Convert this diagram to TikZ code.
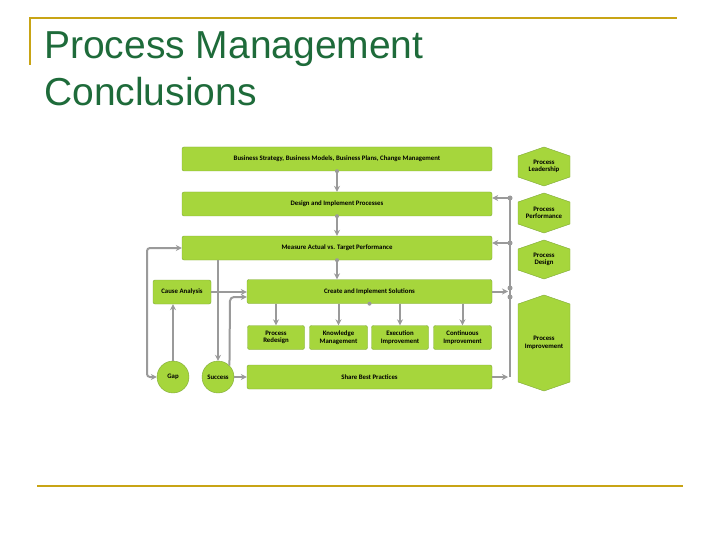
\documentclass[tikz,border=0pt]{standalone}
\usepackage{fontspec}
\setmainfont{Liberation Sans}
\newfontfamily\carlfont{Carlito}
\usetikzlibrary{arrows.meta,shapes.geometric}
\definecolor{gfill}{HTML}{A6D63C}
\definecolor{gline}{HTML}{7FA838}
\definecolor{arr}{HTML}{9A9A9A}
\definecolor{gold}{HTML}{C8A415}
\definecolor{ttl}{HTML}{1E6B3A}
\tikzset{
 box/.style={draw=gline,fill=gfill,rounded corners=2pt,font=\carlfont\bfseries\fontsize{6.8}{7.5}\selectfont,align=center,inner sep=0pt},
 circ/.style={circle,draw=gline,fill=gfill,minimum size=32pt,inner sep=0pt,font=\carlfont\bfseries\fontsize{6.8}{7.5}\selectfont},
 hex/.style={font=\carlfont\bfseries\fontsize{6.8}{7.5}\selectfont,align=center},
 con/.style={draw=arr,line width=2pt,-{Stealth[length=6pt,width=6pt]}},
 ln/.style={draw=arr,line width=2pt},
 dot/.style={circle,fill=arr,inner sep=0pt,minimum size=5pt}
}
\begin{document}
\begin{tikzpicture}[x=1pt,y=-1pt]
\useasboundingbox (0,0) rectangle (720,540);
\draw[gold,line width=2pt] (30,65) -- (30,18) -- (677,18);
\draw[gold,line width=2pt] (37,486) -- (683,486);
\node[anchor=north west,text=ttl,font=\fontsize{39}{47}\selectfont,align=left,inner sep=0pt] (title) at (44,31) {Process Management\\Conclusions};
% boxes
\node[box,minimum width=310pt,minimum height=24pt] (bs) at (337,159) {Business Strategy, Business Models, Business Plans, Change Management};
\node[box,minimum width=310pt,minimum height=24pt] (dp) at (337,204) {Design and Implement Processes};
\node[box,minimum width=310pt,minimum height=24pt] (ma) at (337,248) {Measure Actual vs. Target Performance};
\node[box,minimum width=245pt,minimum height=24pt] (cs) at (369.5,291.5) {Create and Implement Solutions};
\node[box,minimum width=58pt,minimum height=24pt] (ca) at (182,292) {Cause Analysis};
\node[box,minimum width=57pt,minimum height=24pt] (pr) at (276,337.5) {Process\\Redesign};
\node[box,minimum width=58pt,minimum height=24pt] (km) at (338.5,337.5) {Knowledge\\Management};
\node[box,minimum width=57pt,minimum height=24pt] (ei) at (400,337.5) {Execution\\Improvement};
\node[box,minimum width=58pt,minimum height=24pt] (ci) at (462.5,337.5) {Continuous\\Improvement};
\node[box,minimum width=245pt,minimum height=24pt] (sb) at (369.5,377) {Share Best Practices};
\node[circ] (gap) at (173,377) {Gap};
\node[circ] (suc) at (218,377) {Success};
% hexagons
\foreach \n/\y/\h/\t in {h1/166.5/39/{Process\\Leadership},h2/213/40/{Process\\Performance},h3/259.5/39/{Process\\Design},h4/343/96/{Process\\Improvement}}{
 \fill[gfill,draw=gline] (518,\y-\h/2+9) -- (544,\y-\h/2) -- (570,\y-\h/2+9) -- (570,\y+\h/2-9) -- (544,\y+\h/2) -- (518,\y+\h/2-9) -- cycle;
 \node[hex] (\n) at (544,\y) {\t};
}
% connectors
\draw[con] (bs) -- (dp);
\draw[con] (dp) -- (ma);
\draw[con] (ma.south) -- (ma.south |- cs.north);
\foreach \b in {pr,km,ei,ci} \draw[con] (cs.south -| \b.north) -- (\b);
\draw[con] (ca) -- (cs.west |- ca);
\draw[con] (gap) -- (gap |- ca.south);
\draw[con] (suc) -- (sb);
\draw[con] (ma.south -| suc.north) -- (suc);
\draw[con,rounded corners=4pt] (suc.north east) -- (230,297) -- (cs.west |- 0,297);
\draw[con,{Stealth[length=6pt,width=6pt]}-{Stealth[length=6pt,width=6pt]},rounded corners=3pt] (gap.west) -- (147,377) -- (147,248) -- (ma.west);
\coordinate (b1) at (510,198);
\coordinate (b2) at (510,377);
\draw[ln] (b1) -- (b2);
\draw[con] (b1) -- (dp.east |- b1);
\draw[con] (510,243) -- (ma.east |- 0,243);
\draw[con] (cs.east) -- (508,291.5);
\draw[con] (sb.east) -- (508,377);
\foreach \y in {198,243,288,297} \node[dot] at (510,\y) {};
\foreach \n in {bs,dp,ma,cs} \node[dot,minimum size=4pt] at (\n.south) {};
\end{tikzpicture}
\end{document}
